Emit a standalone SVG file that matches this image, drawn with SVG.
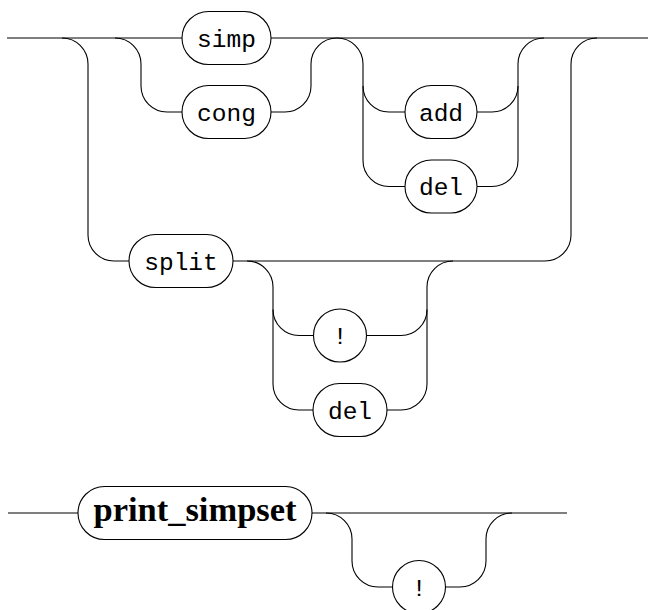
<svg xmlns="http://www.w3.org/2000/svg" width="648" height="610" viewBox="0 0 648 610">
<style>
.n{fill:#fff;stroke:#000;stroke-width:1.1}
.c{fill:none;stroke:#000;stroke-width:1.1}
.t{font-family:"Liberation Mono","DejaVu Sans Mono",monospace;font-size:24.5px;text-anchor:middle;fill:#000}
.b{font-family:"Liberation Serif","DejaVu Serif",serif;font-size:33px;font-weight:bold;text-anchor:middle;fill:#000}
</style>
<rect width="648" height="610" fill="#fff"/>
<g id="connectors" class="c">
<path d="M7,38 H182 M271,38 H648"/>
<path d="M62,38 A26,26 0 0 1 88,64 V235 A26,26 0 0 0 114,261 H129"/>
<path d="M115,38 A26,26 0 0 1 141,64 V86 A26,26 0 0 0 167,112 H182"/>
<path d="M271,112 H285 A26,26 0 0 0 311,86 V64 A26,26 0 0 1 337,38"/>
<path d="M337,38 A26,26 0 0 1 363,64 V160.5 A26,26 0 0 0 389,186.5 H405"/>
<path d="M363,86 A26,26 0 0 0 389,112 H405"/>
<path d="M477,112 H492 A26,26 0 0 0 518,86 V64 A26,26 0 0 1 544,38"/>
<path d="M477,186.5 H492 A26,26 0 0 0 518,160.5 V86"/>
<path d="M233,261 H545 A26,26 0 0 0 571,235 V64 A26,26 0 0 1 597,38"/>
<path d="M247,261 A26,26 0 0 1 273,287 V384 A26,26 0 0 0 299,410 H313"/>
<path d="M273,309.5 A26,26 0 0 0 299,335.5 H313.5"/>
<path d="M366.5,335.5 H401 A26,26 0 0 0 427,309.5 V287 A26,26 0 0 1 453,261"/>
<path d="M387,410 H401 A26,26 0 0 0 427,384 V309.5"/>
<path d="M8,513 H78 M312,513 H567"/>
<path d="M326,513 A26,26 0 0 1 352,539 V561 A26,26 0 0 0 378,587 H392.5"/>
<path d="M445.5,587 H460 A26,26 0 0 0 486,561 V539 A26,26 0 0 1 512,513"/>
</g>
<g id="simp"><rect class="n" x="182" y="11.5" width="89" height="53" rx="26.5"/><text class="t" x="226.5" y="46.5">simp</text></g>
<g id="cong"><rect class="n" x="182" y="85.5" width="89" height="53" rx="26.5"/><text class="t" x="226.5" y="120.5">cong</text></g>
<g id="add"><rect class="n" x="405" y="85.5" width="72" height="53" rx="26.5"/><text class="t" x="441" y="120.5">add</text></g>
<g id="del1"><rect class="n" x="405" y="160" width="72" height="53" rx="26.5"/><text class="t" x="441" y="195">del</text></g>
<g id="split"><rect class="n" x="129" y="234.5" width="104" height="53" rx="26.5"/><text class="t" x="181" y="269.5">split</text></g>
<g id="bang1"><circle class="n" cx="340" cy="335.5" r="26.5"/><text class="t" x="340" y="344">!</text></g>
<g id="del2"><rect class="n" x="313" y="383.5" width="74" height="53" rx="26.5"/><text class="t" x="350" y="418.5">del</text></g>
<g id="print_simpset"><rect class="n" x="78" y="486.5" width="234" height="53" rx="26.5"/><text class="b" x="195" y="521" textLength="203" lengthAdjust="spacingAndGlyphs">print_simpset</text></g>
<g id="bang2"><circle class="n" cx="419" cy="587" r="26.5"/><text class="t" x="419" y="595.5">!</text></g>
</svg>
